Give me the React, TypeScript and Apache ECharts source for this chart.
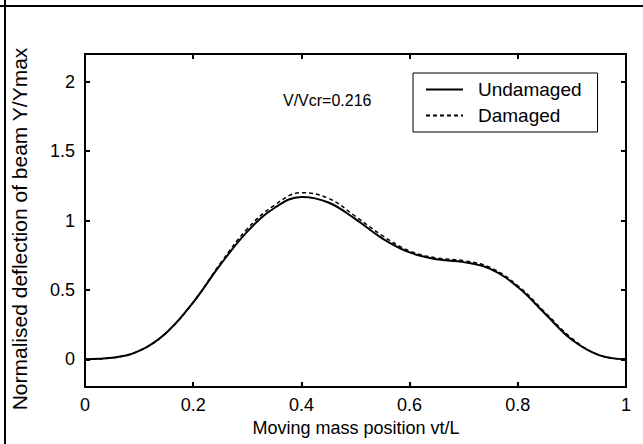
import React, { useEffect, useRef } from "react";
import * as echarts from "echarts";

const positions = [0, 0.05, 0.1, 0.15, 0.2, 0.25, 0.3, 0.35, 0.4, 0.45, 0.5, 0.55, 0.6, 0.65, 0.7, 0.75, 0.8, 0.85, 0.9, 0.95, 1.0];
const undamaged = [0, 0.01, 0.06, 0.19, 0.41, 0.68, 0.92, 1.09, 1.17, 1.13, 1.01, 0.87, 0.77, 0.72, 0.7, 0.65, 0.52, 0.33, 0.14, 0.03, 0];
const damaged = [0, 0.01, 0.06, 0.19, 0.41, 0.69, 0.94, 1.11, 1.2, 1.16, 1.03, 0.89, 0.78, 0.73, 0.71, 0.66, 0.53, 0.34, 0.15, 0.03, 0];
const yTicks = [0, 0.5, 1, 1.5, 2];
const seriesNames = ["Undamaged", "Damaged"];
const annotation = "V/Vcr=0.216";
const xTitle = "Moving mass position vt/L";
const yTitle = "Normalised deflection of beam Y/Ymax";

const FONT = "'Liberation Sans', Arial, Helvetica, sans-serif";

export default function App() {
  const ref = useRef<HTMLDivElement>(null);
  useEffect(() => {
    if (!ref.current) return;
    const chart = echarts.init(ref.current, null, { renderer: "svg" });
    const axisLine = { show: true, onZero: false, lineStyle: { color: "#000", width: 2 } };
    const axisTick = { show: true, inside: true, length: 5, lineStyle: { color: "#000", width: 2 } };
    const xCommon = {
      type: "value",
      min: 0,
      max: 1,
      interval: 0.2,
      axisLine,
      axisTick,
      splitLine: { show: false },
    };
    const yCommon = {
      type: "value",
      min: -0.2,
      max: 2.2,
      axisLine,
      splitLine: { show: false },
    };
    chart.setOption({
      animation: false,
      backgroundColor: "#fff",
      grid: {
        left: 85,
        top: 54,
        width: 541,
        height: 333,
        containLabel: false,
        show: true,
        borderColor: "#000",
        borderWidth: 2,
        backgroundColor: "transparent",
      },
      xAxis: [
        {
          ...xCommon,
          position: "bottom",
          axisLabel: { color: "#000", fontSize: 18, fontFamily: FONT, margin: 9 },
        },
        { ...xCommon, position: "top", axisLabel: { show: false } },
      ],
      yAxis: [
        {
          ...yCommon,
          position: "left",
          axisTick: { ...axisTick, customValues: yTicks },
          axisLabel: { color: "#000", fontSize: 18, fontFamily: FONT, margin: 10, customValues: yTicks },
        },
        {
          ...yCommon,
          position: "right",
          axisTick: { ...axisTick, customValues: yTicks },
          axisLabel: { show: false, customValues: yTicks },
        },
      ],
      legend: {
        orient: "vertical",
        left: 413,
        top: 73,
        data: seriesNames,
        backgroundColor: "#fff",
        borderColor: "#000",
        borderWidth: 1,
        borderRadius: 0,
        padding: [7, 16, 7, 12],
        itemWidth: 37,
        itemHeight: 14,
        itemGap: 7,
        itemStyle: { opacity: 0 },
        textStyle: { color: "#000", fontSize: 19, fontFamily: FONT, padding: [0, 0, 0, 10] },
      },
      graphic: [
        {
          type: "line",
          shape: { x1: 5, y1: 0, x2: 5, y2: 444 },
          style: { stroke: "#000", lineWidth: 2 },
        },
        {
          type: "line",
          shape: { x1: 0, y1: 6, x2: 643, y2: 6 },
          style: { stroke: "#000", lineWidth: 2 },
        },
        {
          type: "text",
          x: 283,
          y: 100,
          style: { text: annotation, fill: "#000", fontSize: 16, fontFamily: FONT, textVerticalAlign: "middle" },
        },
        {
          type: "text",
          x: 356,
          y: 428,
          style: { text: xTitle, fill: "#000", fontSize: 18, fontFamily: FONT, textAlign: "center", textVerticalAlign: "middle" },
        },
        {
          type: "text",
          x: 19,
          y: 229,
          rotation: Math.PI / 2,
          style: { text: yTitle, fill: "#000", fontSize: 21, fontFamily: FONT, textAlign: "center", textVerticalAlign: "middle" },
        },
      ],
      series: [
        {
          name: seriesNames[1],
          type: "line",
          data: positions.map((x, i) => [x, damaged[i]]),
          smooth: 0.4,
          symbol: "none",
          lineStyle: { color: "#000", width: 1.5, type: [4, 3] },
          itemStyle: { color: "#000" },
        },
        {
          name: seriesNames[0],
          type: "line",
          data: positions.map((x, i) => [x, undamaged[i]]),
          smooth: 0.4,
          symbol: "none",
          lineStyle: { color: "#000", width: 2 },
          itemStyle: { color: "#000" },
        },
      ],
    });
    return () => chart.dispose();
  }, []);
  return (
    <div
      ref={ref}
      style={{ position: "fixed", left: 0, top: 0, width: 643, height: 444 }}
    />
  );
}
